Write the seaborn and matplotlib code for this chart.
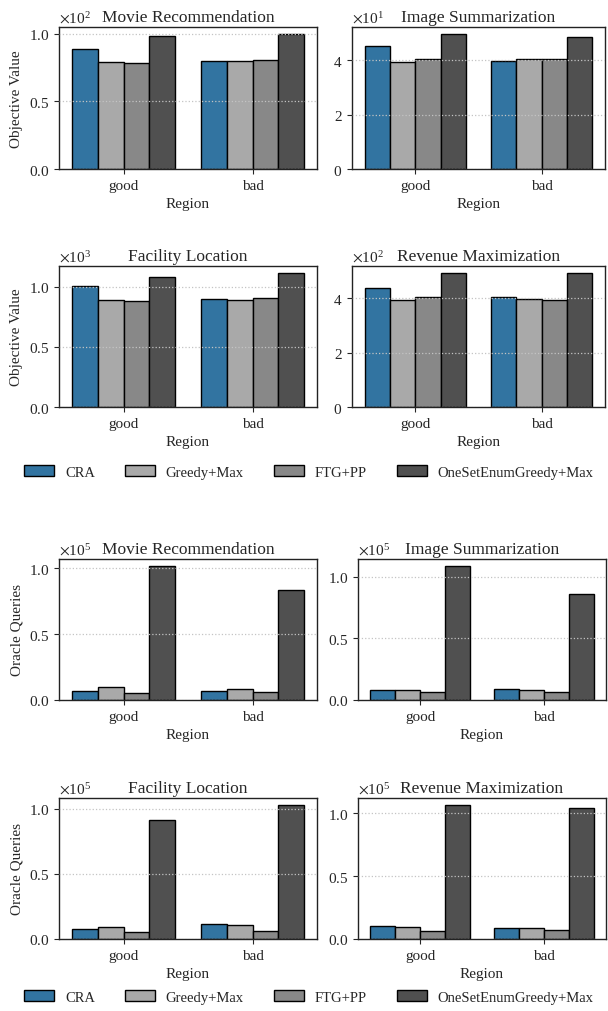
import numpy as np
import pandas as pd
import matplotlib
matplotlib.use("Agg")
import matplotlib.pyplot as plt
import seaborn as sns
from matplotlib.ticker import ScalarFormatter, MultipleLocator

regions = ["good", "bad"]
algorithms = ["CRA", "Greedy+Max", "FTG+PP", "OneSetEnumGreedy+Max"]
colors = ["#1f77b4", "#a9a9a9", "#888888", "#505050"]
tasks = ["Movie Recommendation", "Image Summarization",
         "Facility Location", "Revenue Maximization"]

# objective values, per task: [good..., bad...] in algorithm order
obj_movie = [[88.4, 79.0, 78.5, 98.5], [80.2, 79.5, 80.7, 100.0]]
obj_image = [[45.1, 39.4, 40.5, 49.7], [39.6, 40.5, 40.5, 48.6]]
obj_facility = [[1005, 888, 883, 1083], [900, 895, 911, 1119]]
obj_revenue = [[439, 395, 407, 493], [404, 399, 396, 495]]

# oracle queries
q_movie = [[7100, 10100, 5100, 102000], [7100, 8600, 6300, 83500]]
q_image = [[8400, 8400, 6200, 109000], [9200, 7900, 6200, 85700]]
q_facility = [[7400, 9200, 5400, 91000], [11200, 10500, 6400, 103000]]
q_revenue = [[10100, 9500, 6400, 107000], [8500, 8700, 7100, 104000]]

objective_data = [obj_movie, obj_image, obj_facility, obj_revenue]
query_data = [q_movie, q_image, q_facility, q_revenue]
tick_steps = [50, 20, 500, 200, 50000, 50000, 50000, 50000]


def to_frame(vals):
    rows = []
    for r, region in enumerate(regions):
        for a, alg in enumerate(algorithms):
            rows.append({"Region": region, "Algorithm": alg, "value": vals[r][a]})
    return pd.DataFrame(rows)


sns.set_style("ticks")
plt.rcParams["font.family"] = ["Liberation Serif", "DejaVu Serif"]
plt.rcParams["mathtext.fontset"] = "stix"
plt.rcParams["font.size"] = 11

fig = plt.figure(figsize=(6.08, 10.12), dpi=100)
W, H = 608, 1012


def px_axes(x0, y0, x1, y1):
    return fig.add_axes([x0 / W, 1 - y1 / H, (x1 - x0) / W, (y1 - y0) / H])


positions = [
    (59, 28, 317, 170), (352, 28, 605, 170),
    (59, 267, 317, 408), (352, 267, 605, 408),
    (59, 560, 317, 701), (358, 560, 606, 701),
    (59, 799, 317, 940), (358, 799, 606, 940),
]

all_data = objective_data + query_data
for i, (vals, pos) in enumerate(zip(all_data, positions)):
    ax = px_axes(*pos)
    df = to_frame(vals)
    sns.barplot(data=df, x="Region", y="value", hue="Algorithm",
                hue_order=algorithms, palette=colors, edgecolor="black",
                linewidth=1, ax=ax, legend=False)
    ax.set_title(tasks[i % 4], fontsize=12.5, pad=4)
    ax.set_xlabel("Region", fontsize=11)
    if i % 2 == 0:
        ax.set_ylabel("Objective Value" if i < 4 else "Oracle Queries", fontsize=11)
    else:
        ax.set_ylabel("")
    fmt = ScalarFormatter(useMathText=True)
    fmt.set_powerlimits((0, 0))
    ax.yaxis.set_major_formatter(fmt)
    ax.yaxis.set_major_locator(MultipleLocator(tick_steps[i]))
    ax.yaxis.get_offset_text().set_fontsize(11)
    ax.tick_params(labelsize=11, length=3.5)
    ax.grid(axis="y", linestyle=":", color="#c4c4c4", linewidth=0.9)
    ax.set_axisbelow(False)
    for s in ax.spines.values():
        s.set_color("#222222")
        s.set_linewidth(1.0)

handles = [plt.Rectangle((0, 0), 1, 1, facecolor=c, edgecolor="black", linewidth=1)
           for c in sns.color_palette(colors, desat=0.75)]
for y in [473, 998]:
    fig.legend(handles, algorithms, loc="center", bbox_to_anchor=(0.508, 1 - y / H),
               ncol=4, frameon=False, fontsize=10.5, handlelength=2.05,
               handleheight=0.8, columnspacing=2.05, handletextpad=0.75)

fig.savefig("out.png", dpi=100)
